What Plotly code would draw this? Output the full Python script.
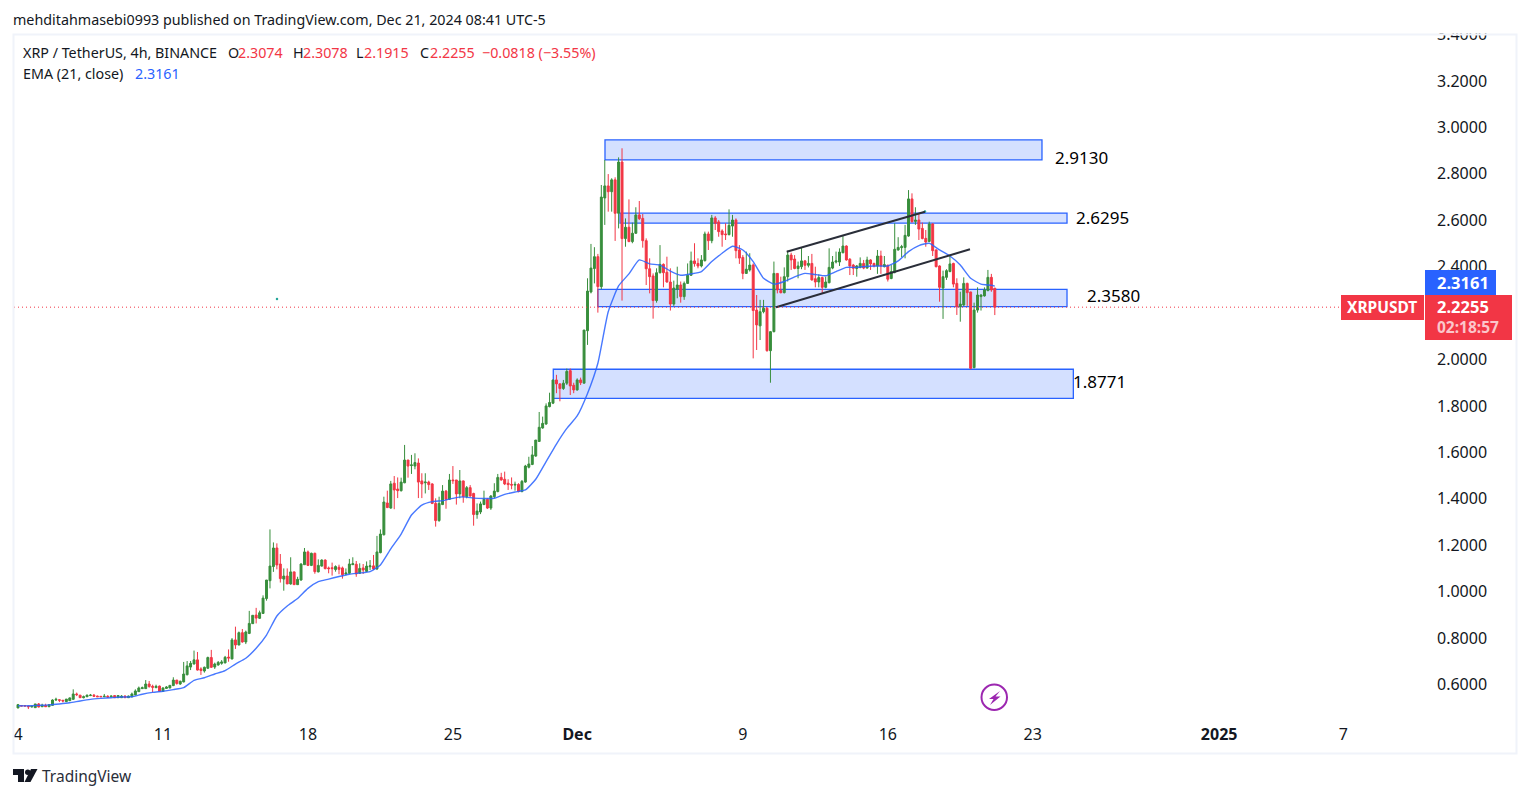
import pandas as pd
import plotly.graph_objects as go

dates = pd.date_range("2024-11-04 00:00", periods=284, freq="4h")

opens = [.499,.509,.509,.507,.503,.500,.516,.504,.510,.504,.510,.533,.534,.532,.526,.530,.536,.559,.554,.543,
.547,.552,.554,.550,.549,.547,.549,.547,.552,.543,.543,.550,.543,.547,.555,.569,.582,.582,.602,.592,
.586,.593,.570,.583,.585,.595,.619,.602,.611,.642,.675,.688,.706,.667,.658,.670,.716,.675,.684,.691,
.693,.718,.710,.792,.770,.823,.783,.820,.862,.899,.885,.906,.970,1.047,1.108,1.188,1.119,1.054,1.067,1.033,
1.085,1.030,1.050,1.116,1.171,1.113,1.165,1.085,1.110,1.136,1.102,1.103,1.095,1.105,1.102,1.076,1.079,1.116,1.118,1.079,
1.102,1.087,1.107,1.111,1.098,1.168,1.245,1.382,1.360,1.467,1.442,1.435,1.469,1.567,1.543,1.541,1.554,1.477,1.469,1.472,
1.464,1.380,1.306,1.375,1.433,1.398,1.481,1.481,1.421,1.477,1.409,1.448,1.423,1.332,1.343,1.375,1.398,1.360,1.409,1.431,
1.492,1.484,1.467,1.462,1.459,1.462,1.431,1.472,1.536,1.548,1.584,1.647,1.705,1.722,1.797,1.812,1.912,1.895,1.875,1.898,
1.952,1.889,1.869,1.912,1.898,2.124,2.291,2.392,2.443,2.314,2.696,2.748,2.723,2.774,2.630,2.851,2.521,2.570,2.508,2.544,
2.623,2.608,2.512,2.391,2.360,2.254,2.374,2.410,2.376,2.334,2.239,2.303,2.321,2.271,2.328,2.363,2.425,2.414,2.403,2.426,
2.541,2.512,2.610,2.593,2.554,2.541,2.538,2.575,2.601,2.472,2.440,2.371,2.386,2.407,2.213,2.145,2.206,2.221,2.038,2.120,
2.371,2.297,2.288,2.357,2.450,2.433,2.392,2.400,2.425,2.406,2.414,2.348,2.334,2.353,2.311,2.331,2.394,2.420,2.420,2.460,
2.489,2.432,2.407,2.392,2.397,2.414,2.394,2.429,2.414,2.403,2.446,2.400,2.406,2.349,2.376,2.472,2.482,2.483,2.532,2.692,
2.595,2.601,2.565,2.522,2.509,2.584,2.472,2.403,2.308,2.354,2.379,2.414,2.328,2.228,2.235,2.328,2.291,1.965,2.213,2.271,
2.274,2.297,2.354,2.3074]

highs = [.516,.510,.510,.507,.507,.516,.520,.517,.517,.513,.536,.543,.536,.533,.537,.544,.579,.565,.554,.552,
.556,.559,.559,.552,.550,.559,.554,.552,.553,.553,.554,.553,.552,.565,.579,.591,.591,.619,.615,.599,
.599,.595,.588,.593,.598,.631,.619,.616,.697,.701,.701,.746,.740,.674,.677,.720,.749,.694,.701,.705,
.723,.751,.800,.849,.828,.839,.832,.917,.899,.930,.918,.984,1.050,1.268,1.212,1.208,1.162,1.100,1.100,1.148,
1.086,1.064,1.122,1.188,1.177,1.168,1.168,1.139,1.139,1.139,1.108,1.125,1.113,1.116,1.108,1.100,1.141,1.148,1.132,1.122,
1.119,1.130,1.136,1.158,1.240,1.268,1.409,1.435,1.477,1.498,1.492,1.491,1.632,1.567,1.589,1.596,1.574,1.510,1.510,1.478,
1.467,1.402,1.409,1.459,1.438,1.507,1.541,1.481,1.524,1.478,1.455,1.459,1.426,1.380,1.388,1.435,1.402,1.416,1.467,1.507,
1.512,1.517,1.484,1.492,1.474,1.467,1.481,1.546,1.581,1.627,1.653,1.774,1.754,1.811,1.857,1.912,1.934,1.898,1.912,1.961,
1.961,1.900,1.919,1.922,2.127,2.350,2.498,2.484,2.455,2.752,2.860,2.799,2.781,2.785,2.871,2.910,2.608,2.690,2.590,2.656,
2.683,2.627,2.522,2.436,2.371,2.393,2.493,2.414,2.443,2.393,2.340,2.400,2.336,2.336,2.414,2.465,2.501,2.436,2.450,2.551,
2.551,2.623,2.618,2.601,2.561,2.587,2.647,2.623,2.608,2.493,2.450,2.465,2.458,2.414,2.278,2.257,2.257,2.225,2.123,2.422,
2.371,2.357,2.397,2.469,2.460,2.450,2.422,2.483,2.429,2.446,2.455,2.400,2.367,2.357,2.357,2.479,2.446,2.465,2.479,2.532,
2.492,2.437,2.412,2.407,2.440,2.429,2.443,2.432,2.417,2.472,2.469,2.446,2.409,2.407,2.587,2.527,2.494,2.580,2.730,2.716,
2.656,2.630,2.590,2.558,2.594,2.587,2.475,2.406,2.383,2.389,2.450,2.417,2.350,2.292,2.354,2.331,2.292,2.245,2.311,2.281,
2.311,2.386,2.369,2.3078]

lows = [.497,.507,.507,.494,.501,.499,.501,.503,.503,.503,.509,.529,.524,.523,.524,.529,.534,.550,.542,.540,
.546,.550,.547,.546,.546,.546,.542,.546,.542,.542,.542,.542,.542,.544,.553,.568,.581,.581,.586,.566,
.585,.568,.569,.582,.583,.593,.599,.598,.609,.639,.662,.687,.660,.641,.651,.667,.671,.667,.681,.685,
.691,.698,.708,.753,.769,.780,.774,.817,.861,.863,.882,.904,.961,1.014,1.085,1.096,1.039,1.004,1.033,1.030,
1.029,1.029,1.047,1.115,1.110,1.110,1.077,1.083,1.108,1.096,1.079,1.069,1.086,1.075,1.056,1.070,1.076,1.115,1.064,1.076,
1.076,1.086,1.093,1.093,1.093,1.165,1.242,1.360,1.357,1.355,1.403,1.431,1.467,1.491,1.507,1.527,1.403,1.403,1.423,1.438,
1.377,1.280,1.301,1.373,1.357,1.395,1.464,1.375,1.402,1.383,1.402,1.409,1.284,1.314,1.334,1.373,1.356,1.352,1.403,1.428,
1.478,1.459,1.438,1.441,1.435,1.428,1.428,1.469,1.531,1.545,1.581,1.646,1.702,1.719,1.794,1.808,1.855,1.820,1.869,1.890,
1.847,1.855,1.866,1.890,1.898,2.063,2.285,2.328,2.202,2.303,2.580,2.637,2.637,2.511,2.565,2.254,2.486,2.506,2.501,2.541,
2.601,2.482,2.321,2.285,2.176,2.245,2.371,2.311,2.331,2.211,2.231,2.264,2.245,2.257,2.326,2.360,2.400,2.393,2.397,2.422,
2.472,2.501,2.558,2.529,2.486,2.515,2.535,2.529,2.436,2.412,2.346,2.369,2.379,2.005,2.041,2.084,2.199,2.034,1.900,2.117,
2.285,2.285,2.285,2.336,2.386,2.389,2.350,2.389,2.386,2.397,2.340,2.311,2.311,2.285,2.307,2.328,2.389,2.414,2.403,2.458,
2.426,2.364,2.364,2.357,2.393,2.389,2.392,2.386,2.397,2.369,2.369,2.397,2.336,2.346,2.371,2.469,2.440,2.436,2.529,2.590,
2.580,2.515,2.518,2.486,2.506,2.446,2.397,2.249,2.175,2.343,2.376,2.311,2.192,2.163,2.231,2.231,1.958,1.962,2.202,2.211,
2.271,2.294,2.292,2.1915]

closes = [.513,.507,.507,.504,.506,.516,.503,.511,.504,.513,.533,.536,.532,.529,.537,.542,.559,.556,.543,.547,
.554,.554,.549,.547,.547,.549,.546,.550,.543,.552,.550,.543,.550,.559,.572,.585,.586,.602,.591,.588,
.592,.570,.585,.589,.596,.619,.604,.614,.645,.680,.691,.706,.662,.660,.674,.716,.674,.688,.695,.697,
.717,.714,.792,.770,.823,.783,.826,.863,.898,.886,.909,.972,1.050,1.110,1.188,1.115,1.056,1.067,1.033,1.085,
1.030,1.053,1.119,1.171,1.113,1.165,1.086,1.113,1.136,1.099,1.099,1.099,1.108,1.096,1.073,1.080,1.119,1.120,1.076,1.100,
1.093,1.110,1.111,1.098,1.171,1.248,1.386,1.362,1.464,1.438,1.435,1.472,1.567,1.541,1.546,1.556,1.472,1.464,1.472,1.461,
1.380,1.306,1.380,1.433,1.398,1.481,1.478,1.421,1.477,1.409,1.448,1.412,1.332,1.347,1.378,1.398,1.360,1.412,1.433,1.492,
1.481,1.464,1.461,1.459,1.462,1.431,1.475,1.541,1.550,1.589,1.653,1.708,1.725,1.800,1.815,1.912,1.895,1.875,1.898,1.949,
1.886,1.869,1.912,1.900,2.127,2.295,2.394,2.443,2.314,2.700,2.748,2.723,2.774,2.630,2.851,2.521,2.570,2.508,2.544,2.623,
2.607,2.512,2.391,2.357,2.254,2.374,2.410,2.374,2.334,2.239,2.308,2.321,2.271,2.328,2.363,2.425,2.413,2.403,2.429,2.541,
2.512,2.610,2.587,2.551,2.538,2.538,2.578,2.601,2.469,2.437,2.371,2.389,2.407,2.211,2.149,2.206,2.221,2.038,2.120,2.371,
2.300,2.288,2.357,2.450,2.429,2.392,2.403,2.425,2.406,2.414,2.343,2.334,2.353,2.311,2.334,2.397,2.420,2.425,2.463,2.489,
2.429,2.403,2.393,2.403,2.414,2.394,2.429,2.412,2.403,2.446,2.403,2.409,2.346,2.379,2.475,2.483,2.486,2.535,2.692,2.594,
2.601,2.562,2.521,2.506,2.584,2.469,2.400,2.311,2.357,2.383,2.412,2.325,2.228,2.239,2.328,2.288,1.962,2.213,2.278,2.278,
2.300,2.354,2.300,2.2255]

ema_values = [.508,.508,.510,.512,.516,.521,.529,.536,.540,.543,.546,.547,.558,.566,.571,.578,.586,.618,.629,.645,
.660,.688,.713,.756,.813,.895,.938,.970,1.014,1.043,1.054,1.065,1.075,1.080,1.086,1.115,1.184,1.248,1.330,1.373,
1.388,1.392,1.402,1.408,1.403,1.401,1.402,1.419,1.429,1.438,1.484,1.560,1.636,1.703,1.757,1.854,1.984,2.206,2.317,2.369,
2.429,2.412,2.407,2.381,2.363,2.369,2.379,2.422,2.458,2.488,2.472,2.422,2.350,2.325,2.336,2.356,2.371,2.366,2.361,2.379,
2.397,2.397,2.402,2.403,2.403,2.425,2.465,2.491,2.501,2.472,2.446,2.407,2.350,2.325,2.320,2.3161]

y_ticks = [3.4, 3.2, 3.0, 2.8, 2.6, 2.4, 2.2, 2.0, 1.8, 1.6, 1.4, 1.2, 1.0, 0.8, 0.6]
x_tick_dates = ["2024-11-04","2024-11-11","2024-11-18","2024-11-25","2024-12-01","2024-12-09","2024-12-16","2024-12-23","2025-01-01","2025-01-07"]
x_tick_text = ["4","11","18","25","<b>Dec</b>","9","16","23","<b>2025</b>","7"]

zones = [
    ("2024-12-02 08:15","2024-12-23 10:40",2.860,2.946),
    ("2024-12-03 01:40","2024-12-24 15:40",2.588,2.631),
    ("2024-12-02 00:00","2024-12-24 15:40",2.2276,2.3025),
    ("2024-11-29 20:20","2024-12-24 23:00",1.833,1.958),
]
channel_lines = [
    ("2024-12-11 02:50",2.4645,"2024-12-17 19:05",2.637),
    ("2024-12-10 14:25",2.225,"2024-12-19 23:15",2.475),
]
stray_dates = ["2024-11-16 12:10","2024-12-17 19:05"]
stray_values = [2.261,2.638]

GREEN, RED, BLUE, INK = "#388E3C", "#F23645", "#2962FF", "#131722"
FONT = "Noto Sans"
L, R, T, B = 14, 1425, 22, 718
def xp(x): return (x - L) / (R - L)
def yp(y): return (B - y) / (B - T)

fig = go.Figure()
fig.add_trace(go.Candlestick(
    x=dates, open=opens, high=highs, low=lows, close=closes,
    increasing=dict(line=dict(color=GREEN, width=1), fillcolor=GREEN),
    decreasing=dict(line=dict(color=RED, width=1), fillcolor=RED),
    whiskerwidth=0, hoverinfo="skip", showlegend=False))
fig.add_trace(go.Scatter(
    x=list(dates[::3]) + [dates[-1]], y=ema_values, mode="lines",
    line=dict(color=BLUE, width=1.4, shape="spline", smoothing=0.5),
    opacity=0.85, hoverinfo="skip", showlegend=False))
fig.add_trace(go.Scatter(x=stray_dates, y=stray_values, mode="markers",
    marker=dict(color="#26A69A", size=2.5), hoverinfo="skip", showlegend=False))

shapes = []
for x0, x1, y0, y1 in zones:
    shapes.append(dict(type="rect", xref="x", yref="y", x0=x0, x1=x1, y0=y0, y1=y1,
                       fillcolor="rgba(41,98,255,0.2)", line=dict(color=BLUE, width=1.3), layer="below"))
for x0, y0, x1, y1 in channel_lines:
    shapes.append(dict(type="line", xref="x", yref="y", x0=x0, x1=x1, y0=y0, y1=y1,
                       line=dict(color="#2A2E39", width=2), layer="above"))
shapes.append(dict(type="line", xref="paper", yref="y", x0=0, x1=1, y0=closes[-1], y1=closes[-1],
                   line=dict(color=RED, width=1, dash="1px,3px"), layer="above"))

def box(x0, y0, x1, y1, fill, line=None, width=0):
    return dict(type="rect", xref="paper", yref="paper", x0=xp(x0), x1=xp(x1), y0=yp(y1), y1=yp(y0),
                fillcolor=fill, line=dict(color=line or fill, width=width), layer="above")
shapes.append(box(0, 0, 1529, 33.5, "white"))          # clips the 3.4000 tick like the pane does
shapes.append(box(1341, 295, 1424, 320, RED))
shapes.append(box(1425, 270, 1496, 295, BLUE))
shapes.append(box(1425, 295, 1512, 340, RED))
shapes.append(dict(type="rect", xref="paper", yref="paper", x0=xp(13.5), x1=xp(1516.5), y0=yp(753.5), y1=yp(34.5),
                   fillcolor="rgba(0,0,0,0)", line=dict(color="#F0F3FA", width=2), layer="above"))

def path(points, fill):
    d = "M" + " L".join(f"{xp(a):.5f},{yp(b):.5f}" for a, b in points) + " Z"
    return dict(type="path", xref="paper", yref="paper", path=d, fillcolor=fill, line=dict(width=0), layer="above")
shapes.append(dict(type="circle", xref="paper", yref="paper", x0=xp(981.5), x1=xp(1007), y0=yp(710), y1=yp(684.5),
                   line=dict(color="#9C27B0", width=2), fillcolor="rgba(0,0,0,0)", layer="above"))
shapes.append(path([(1000,691),(989,699),(993.5,699),(990,705),(1000.5,696.5),(995.5,696.5)], "#9C27B0"))
shapes.append(path([(13,769),(24,769),(24,782),(18,782),(18,775),(13,775)], INK))
shapes.append(dict(type="circle", xref="paper", yref="paper", x0=xp(25), x1=xp(30.5), y0=yp(775), y1=yp(769.5),
                   fillcolor=INK, line=dict(width=0), layer="above"))
shapes.append(path([(37.5,769),(31,769),(24.5,782),(30.5,782)], INK))

anns = []
def text(x, y, s, size=14.3, color=INK, anchor="left"):
    anns.append(dict(xref="paper", yref="paper", x=xp(x), y=yp(y), text=s, showarrow=False,
                     xanchor=anchor, yanchor="middle",
                     font=dict(family=FONT, size=size, color=color), borderpad=0, borderwidth=0))
text(13, 19.5, "mehditahmasebi0993 published on TradingView.com, Dec 21, 2024 08:41 UTC-5")
text(23, 53, "XRP / TetherUS, 4h, BINANCE")
for x, lab, val in [(228,"O","2.3074"),(293,"H","2.3078"),(356,"L","2.1915"),(420,"C","2.2255")]:
    text(x, 53, lab)
    text(x + (8 if lab == "L" else 10), 53, val, color=RED)
text(482, 53, "−0.0818 (−3.55%)", color=RED)
text(23, 74, "EMA (21, close)")
text(135, 74, "2.3161", color=BLUE)
text(1055, 157, "2.9130", size=17, color="#000000")
text(1076, 217.5, "2.6295", size=17, color="#000000")
text(1087, 295, "2.3580", size=17, color="#000000")
text(1073, 382, "1.8771", size=17, color="#000000")
text(1347, 307, "<b>XRPUSDT</b>", size=15.5, color="white")
text(1437, 282, "<b>2.3161</b>", size=16.5, color="white")
text(1437, 307, "<b>2.2255</b>", size=16.5, color="white")
text(1437, 327, "<b>02:18:57</b>", size=15.5, color="#FBC6CB")
text(42, 776, "TradingView", size=15.5, color="#2A2E39")

fig.update_layout(
    width=1529, height=798, autosize=False,
    margin=dict(l=L, r=1529 - R, t=T, b=798 - B, pad=0),
    paper_bgcolor="white", plot_bgcolor="white",
    showlegend=False, dragmode=False, boxgap=0.2,
    shapes=shapes, annotations=anns,
    xaxis=dict(type="date", range=["2024-11-03 19:22", "2025-01-10 22:32"],
               rangeslider=dict(visible=False), showgrid=False, zeroline=False, showline=False,
               tickmode="array", tickvals=x_tick_dates, ticktext=x_tick_text, ticks="",
               tickangle=0, ticklabelstandoff=5, tickfont=dict(family=FONT, size=16, color=INK)),
    yaxis=dict(side="right", range=[0.4555, 3.4542], showgrid=False, zeroline=False, showline=False,
               tickmode="array", tickvals=y_ticks, ticktext=[f"{v:.4f}" for v in y_ticks], ticks="",
               ticklabelstandoff=11, tickfont=dict(family=FONT, size=16, color=INK)),
)
fig.write_html("out.html", config=dict(displayModeBar=False),
               post_script="document.body.style.margin='0';document.body.style.overflow='hidden';")
